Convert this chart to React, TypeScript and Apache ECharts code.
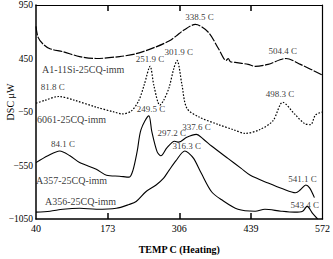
import React, { useEffect, useRef } from "react";
import * as echarts from "echarts";

// ---- data (temperature °C, DSC µW) ----
const xTicks = [40, 173, 306, 439, 572];
const yTicks = [-1050, -550, -50, 450, 950];

const a1Temp = [40, 43.7, 52.9, 65.8, 89.7, 121, 152, 195, 226, 263, 287, 300, 314, 336, 360, 379, 393, 397, 401, 410, 434, 447, 471, 504, 531, 572];
const a1Dsc = [750, 650, 586, 541, 514, 468, 450, 468, 495, 559, 614, 659, 714, 768, 695, 541, 432, 450, 420, 414, 395, 377, 395, 450, 395, 295];

const t6061Temp = [40, 56.6, 82, 112, 152, 185, 200, 217, 231, 241, 251.9, 259, 270, 277, 287, 296, 301.9, 311, 320, 342, 379, 406, 428, 456, 480, 498.3, 520, 539, 550, 559, 572];
const t6061Dsc = [32, 59, 95, 59, -5, -50, -68, -41, 59, 205, 377, 195, 14, 59, 177, 359, 432, 205, -14, -95, -168, -214, -250, -214, -132, 41, -68, -159, -168, -77, -50];

const a357Temp = [40, 62, 84.1, 103, 121, 152, 171, 195, 213, 220, 228, 235, 249.5, 255, 265, 272, 283, 297.2, 305, 320, 337.6, 351, 366, 397, 421, 438, 471, 498, 522, 531, 541.1, 548, 557];
const a357Dsc = [-523, -459, -414, -459, -523, -586, -641, -650, -659, -595, -414, -214, -86, -232, -423, -459, -386, -323, -332, -286, -259, -305, -368, -486, -577, -641, -714, -768, -805, -777, -732, -759, -850];

const a356Temp = [40, 66, 90, 121, 152, 189, 213, 226, 244, 263, 277, 287, 300, 316.3, 323, 333, 347, 366, 384, 415, 447, 465, 495, 520, 535, 543.4, 554, 563];
const a356Dsc = [-986, -977, -959, -950, -959, -950, -914, -886, -795, -732, -668, -595, -505, -414, -432, -486, -623, -795, -868, -959, -977, -959, -977, -986, -977, -932, -1000, -1050];

const peakTexts = ["338.5 C", "504.4 C", "251.9 C", "301.9 C", "81.8 C", "249.5 C", "498.3 C", "84.1 C", "297.2 C", "337.6 C", "316.3 C", "541.1 C", "543.4 C"];
const peakTextX = [343.7, 498, 251.7, 305, 71, 253.5, 493, 90, 292, 338, 320, 535, 539];
const peakTextY = [841, 523, 441, 514, 186, -23, 114, -350, -250, -186, -368, -677, -923];

const curveNames = ["A1-11Si-25CQ-imm", "6061-25CQ-imm", "A357-25CQ-imm", "A356-25CQ-imm"];
const curveNameX = [51, 42, 40, 56.6];
const curveNameY = [350, -123, -686, -886];

const FONT = "'Liberation Serif', 'DejaVu Serif', serif";

function zip(xs: number[], ys: number[]) {
  return xs.map((x, i) => [x, ys[i]]);
}

export default function App() {
  const ref = useRef<HTMLDivElement>(null);
  useEffect(() => {
    if (!ref.current) return;
    const chart = echarts.init(ref.current, undefined, { renderer: "svg" });
    const lineBase = { type: "line", showSymbol: false, symbol: "none", smooth: 0.3, xAxisIndex: 0, yAxisIndex: 0 };
    const labelStyle = (size: number) => ({
      show: true,
      formatter: "{b}",
      color: "#000000",
      fontFamily: FONT,
      fontSize: size,
      textBorderWidth: 0,
    });
    chart.setOption({
      animation: false,
      backgroundColor: "#ffffff",
      grid: { left: 36, top: 5, right: 7, bottom: 31, containLabel: false },
      xAxis: [
        {
          type: "value",
          min: 40,
          max: 572,
          position: "bottom",
          axisLine: { show: true, onZero: false, lineStyle: { color: "#000", width: 1.5 } },
          axisTick: { show: true, inside: true, length: 6, customValues: [173, 306, 439], lineStyle: { color: "#000", width: 1.5 } },
          axisLabel: { show: true, customValues: xTicks, color: "#000", fontFamily: FONT, fontSize: 10, margin: 4 },
          splitLine: { show: false },
          name: "TEMP C (Heating)",
          nameLocation: "middle",
          nameGap: 25,
          nameTextStyle: { color: "#000", fontFamily: FONT, fontSize: 10, fontWeight: "bold" },
        },
        {
          type: "value",
          min: 40,
          max: 572,
          position: "top",
          axisLine: { show: true, onZero: false, lineStyle: { color: "#000", width: 1.2 } },
          axisTick: { show: true, inside: true, length: 6, customValues: [173, 306, 439], lineStyle: { color: "#000", width: 1.5 } },
          axisLabel: { show: false },
          splitLine: { show: false },
        },
      ],
      yAxis: [
        {
          type: "value",
          min: -1050,
          max: 950,
          position: "left",
          axisLine: { show: true, onZero: false, lineStyle: { color: "#000", width: 1.5 } },
          axisTick: { show: false },
          axisLabel: {
            show: true,
            customValues: yTicks,
            color: "#000",
            fontFamily: FONT,
            fontSize: 9.5,
            margin: 3,
            formatter: (v: number) => String(v).replace("-", "\u2212"),
          },
          splitLine: { show: false },
        },
        {
          type: "value",
          min: -1050,
          max: 950,
          position: "right",
          axisLine: { show: true, onZero: false, lineStyle: { color: "#000", width: 1.2 } },
          axisTick: { show: false },
          axisLabel: { show: false },
          splitLine: { show: false },
        },
      ],
      graphic: [
        {
          type: "text",
          x: 10,
          y: 102,
          rotation: Math.PI / 2,
          style: { text: "DSC \u03bcW", fill: "#000", font: `10px ${FONT}`, align: "center", verticalAlign: "middle" },
        },
      ],
      series: [
        { ...lineBase, name: curveNames[0], data: zip(a1Temp, a1Dsc), lineStyle: { color: "#000", width: 1.2, type: [9, 1.5] } },
        { ...lineBase, name: curveNames[1], data: zip(t6061Temp, t6061Dsc), lineStyle: { color: "#000", width: 1.2, type: [1.6, 1.6] } },
        { ...lineBase, name: curveNames[2], data: zip(a357Temp, a357Dsc), lineStyle: { color: "#000", width: 1.1, type: "solid" } },
        { ...lineBase, name: curveNames[3], data: zip(a356Temp, a356Dsc), lineStyle: { color: "#000", width: 1.1, type: "solid" } },
        {
          type: "scatter",
          symbolSize: 0,
          silent: true,
          z: 5,
          itemStyle: { color: "#000000" },
          data: peakTexts.map((t, i) => ({ name: t, value: [peakTextX[i], peakTextY[i]] })),
          label: { ...labelStyle(9), position: "inside" },
        },
        {
          type: "scatter",
          symbolSize: 0,
          silent: true,
          z: 5,
          itemStyle: { color: "#000000" },
          data: curveNames.map((t, i) => ({ name: t, value: [curveNameX[i], curveNameY[i]] })),
          label: { ...labelStyle(10), position: "right", distance: 0 },
        },
      ],
    });
    return () => chart.dispose();
  }, []);
  return <div ref={ref} style={{ width: 333, height: 259, position: "absolute", left: 0, top: 0 }} />;
}
